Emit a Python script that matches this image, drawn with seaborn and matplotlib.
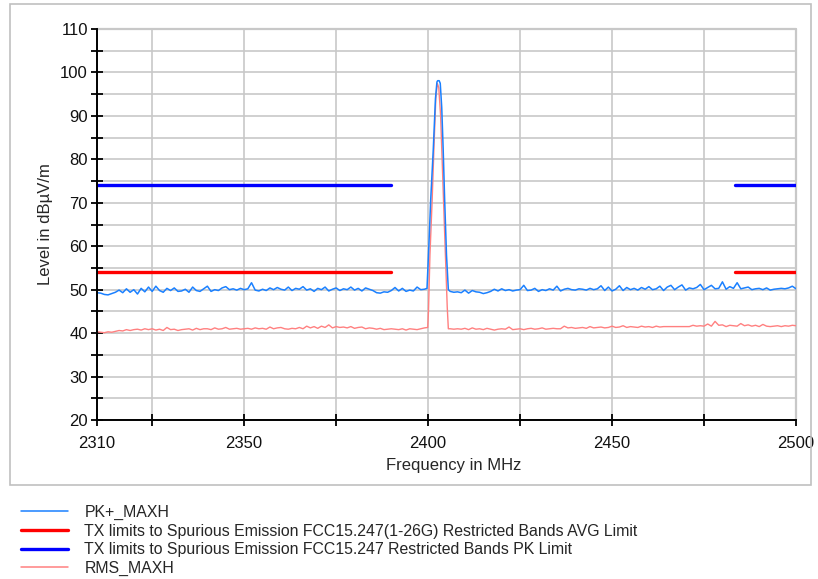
import numpy as np
import pandas as pd
import matplotlib
matplotlib.use("Agg")
import matplotlib.pyplot as plt
from matplotlib.ticker import FixedLocator, NullFormatter
from matplotlib.patches import Rectangle
import seaborn as sns

# ---- sweep data -------------------------------------------------------------
pk_low_freq = np.arange(2310, 2400)
pk_low = [
    49.3, 49.2, 48.9, 48.8, 49.1, 49.4, 49.9, 49.3, 50.2, 49.4,
    50.0, 49.0, 50.3, 49.5, 50.6, 49.6, 50.8, 49.8, 49.4, 50.3,
    49.8, 50.4, 49.6, 49.7, 50.1, 49.4, 50.6, 49.8, 49.6, 50.2,
    50.8, 49.6, 50.0, 49.8, 50.4, 50.7, 50.0, 50.2, 49.9, 50.3,
    50.0, 50.2, 51.6, 49.9, 49.7, 50.1, 49.8, 50.4, 50.0, 50.5,
    50.1, 49.9, 50.6, 49.8, 50.3, 50.1, 50.7, 49.9, 50.2, 49.6,
    50.3, 50.0, 50.6, 49.7, 50.1, 50.4, 49.8, 50.2, 50.0, 50.6,
    49.9, 50.3, 49.7, 50.4, 50.1, 49.8, 49.3, 49.2, 49.5, 49.4,
    49.8, 50.5, 49.7, 50.3, 49.6, 49.9, 49.7, 50.6, 50.0, 50.1,
]
pk_peak_freq = [2399.7, 2400.2, 2400.7, 2401.4, 2402.0, 2402.4, 2402.6,
                2403.0, 2403.3, 2403.7, 2404.1, 2404.5, 2405.0, 2405.5]
pk_peak = [50.3, 60.0, 70.6, 82.2, 94.0, 97.8, 98.1,
           98.1, 97.5, 92.0, 82.2, 70.6, 58.0, 50.0]
pk_high_freq = np.arange(2406, 2501)
pk_high = [
    49.6, 49.4, 49.5, 49.3, 49.9, 49.2, 49.8, 49.5, 49.4, 49.1,
    49.3, 49.6, 50.1, 49.7, 50.2, 49.8, 50.0, 49.7, 49.9, 50.0,
    51.0, 49.8, 49.9, 50.3, 49.6, 50.0, 49.8, 50.2, 49.9, 50.8,
    49.7, 50.1, 50.3, 50.0, 49.9, 50.2, 50.1, 49.9, 50.3, 50.0,
    50.2, 50.9, 49.8, 50.6, 49.7, 50.1, 50.9, 49.8, 50.5, 50.0,
    50.3, 49.9, 50.5, 50.1, 50.7, 50.0, 50.2, 50.8, 49.8, 50.6,
    51.0, 50.0, 50.6, 51.1, 49.9, 50.4, 50.2, 50.5, 51.2, 50.0,
    50.5, 51.0, 50.2, 50.3, 51.8, 50.1, 50.7, 50.3, 51.6, 50.2,
    50.4, 50.6, 50.0, 50.2, 50.3, 50.0, 50.4, 49.9, 50.1, 50.2,
    50.3, 50.2, 50.4, 50.8, 50.2,
]

rms_low_freq = np.arange(2310, 2400)
rms_low = [
    40.3, 40.2, 40.1, 40.3, 40.2, 40.4, 40.6, 40.5, 40.8, 40.6,
    40.8, 40.9, 40.7, 41.0, 40.8, 41.0, 40.7, 40.9, 40.6, 41.3,
    40.8, 40.9, 40.6, 40.8, 40.9, 41.0, 40.7, 41.1, 40.8, 41.0,
    41.0, 40.8, 41.2, 40.9, 41.0, 41.3, 40.9, 41.0, 41.1, 40.9,
    41.0, 41.1, 40.9, 41.2, 41.0, 41.1, 40.9, 41.4, 41.0, 41.2,
    41.3, 41.0, 40.9, 41.1, 41.0, 41.3, 41.0, 41.6, 41.2, 41.5,
    41.1, 41.6, 41.3, 41.9, 41.2, 41.5, 41.3, 41.4, 41.2, 41.5,
    41.1, 41.3, 41.4, 41.0, 41.2, 41.1, 40.9, 41.1, 40.8, 40.9,
    41.0, 40.9, 40.8, 41.0, 40.7, 41.0, 40.9, 40.8, 41.0, 41.2,
]
rms_peak_freq = [2399.9, 2400.1, 2400.5, 2401.1, 2401.6, 2402.1, 2402.5,
                 2402.9, 2403.4, 2403.8, 2404.2, 2404.7, 2405.2, 2405.5]
rms_peak = [41.3, 45.0, 58.0, 70.6, 83.0, 94.0, 97.5,
            96.5, 90.0, 80.0, 70.6, 58.0, 46.0, 41.0]
rms_high_freq = np.arange(2406, 2501)
rms_high = [
    41.0, 40.9, 41.0, 40.9, 41.1, 40.8, 41.2, 40.9, 41.0, 40.8,
    41.1, 40.9, 40.7, 40.9, 41.0, 40.9, 41.4, 40.8, 40.9, 41.0,
    40.8, 41.0, 41.1, 40.9, 41.0, 41.2, 40.9, 41.0, 41.1, 41.0,
    41.0, 41.6, 41.2, 41.3, 41.1, 41.2, 41.3, 41.1, 41.5, 41.2,
    41.3, 41.4, 41.2, 41.3, 41.6, 41.3, 41.4, 41.7, 41.3, 41.5,
    41.4, 41.3, 41.6, 41.4, 41.5, 41.3, 41.6, 41.4, 41.5, 41.5,
    41.5, 41.5, 41.5, 41.5, 41.5, 41.5, 41.8, 41.6, 41.7, 41.6,
    42.1, 41.6, 42.7, 41.8, 41.9, 41.5, 41.8, 41.7, 41.6, 42.2,
    41.7, 41.9, 41.6, 41.8, 41.5, 42.0, 41.6, 41.5, 41.6, 41.7,
    41.5, 41.7, 41.6, 41.8, 41.7,
]

# restricted-band limits (dBuV/m) over the two restricted bands
band_low = [2310, 2390]
band_high = [2483.5, 2500]
avg_limit = 54.0
pk_limit = 74.0

labels = [
    "PK+_MAXH",
    "TX limits to Spurious Emission FCC15.247(1-26G) Restricted Bands AVG Limit",
    "TX limits to Spurious Emission FCC15.247 Restricted Bands PK Limit",
    "RMS_MAXH",
]

pk_df = pd.DataFrame({
    "freq": np.concatenate([pk_low_freq, pk_peak_freq, pk_high_freq]),
    "level": np.concatenate([pk_low, pk_peak, pk_high]),
})
rms_df = pd.DataFrame({
    "freq": np.concatenate([rms_low_freq, rms_peak_freq, rms_high_freq]),
    "level": np.concatenate([rms_low, rms_peak, rms_high]),
})

# ---- styling ----------------------------------------------------------------
sns.set_theme(style="white")
plt.rcParams["font.family"] = ["Liberation Sans", "DejaVu Sans"]
plt.rcParams["font.size"] = 12

C_PK = "#1a80ff"
C_RMS = "#ff8080"
C_AVG = "#ff0000"
C_PKL = "#0000ff"
GRID = "#c8c8c8"

fig = plt.figure(figsize=(8.18, 5.79), dpi=100)
fig.patches.append(Rectangle((10 / 818, 1 - 485 / 579), 801 / 818, 481 / 579,
                             transform=fig.transFigure, fill=False,
                             edgecolor="#c0c0c0", linewidth=1.2))
ax = fig.add_axes([97 / 818, 1 - 420 / 579, 699 / 818, 391 / 579])

sns.lineplot(data=rms_df, x="freq", y="level", ax=ax, color=C_RMS,
             linewidth=1.0, sort=False, estimator=None, zorder=3)
sns.lineplot(data=pk_df, x="freq", y="level", ax=ax, color=C_PK,
             linewidth=1.1, sort=False, estimator=None, zorder=4)
for band in (band_low, band_high):
    sns.lineplot(x=band, y=[avg_limit] * 2, ax=ax, color=C_AVG,
                 linewidth=2.4, zorder=5)
    sns.lineplot(x=band, y=[pk_limit] * 2, ax=ax, color=C_PKL,
                 linewidth=2.4, zorder=5)

ax.set_xlim(2310, 2500)
ax.set_ylim(20, 110)
ax.xaxis.set_major_locator(FixedLocator([2310, 2350, 2400, 2450, 2500]))
ax.xaxis.set_minor_locator(FixedLocator([2325, 2375, 2425, 2475]))
ax.yaxis.set_major_locator(FixedLocator(np.arange(20, 111, 10)))
ax.yaxis.set_minor_locator(FixedLocator(np.arange(25, 110, 10)))
ax.xaxis.set_minor_formatter(NullFormatter())
ax.yaxis.set_minor_formatter(NullFormatter())

ax.grid(True, which="both", color=GRID, linewidth=1.2, zorder=0)
ax.set_axisbelow(True)
for side in ("top", "right"):
    ax.spines[side].set_visible(False)
for side in ("left", "bottom"):
    ax.spines[side].set_color("black")
    ax.spines[side].set_linewidth(1.4)
    ax.spines[side].set_zorder(6)
ax.plot([2500, 2500], [20, 110], color=GRID, linewidth=1.6, zorder=1,
        clip_on=False)
ax.plot([2310, 2500], [110, 110], color=GRID, linewidth=1.6, zorder=1,
        clip_on=False)

ax.tick_params(axis="both", which="both", direction="inout", length=9,
               width=1.3, color="black", labelsize=12, labelcolor="#111111",
               bottom=True, left=True)
ax.tick_params(axis="x", which="both", pad=7)
ax.tick_params(axis="y", which="both", pad=2)

ax.set_xlabel("Frequency in MHz", fontsize=12)
ax.xaxis.set_label_coords(0.51, -0.098)
ax.set_ylabel("Level in dBµV/m", fontsize=12, labelpad=5)

# legend below the chart frame
handles = [
    plt.Line2D([], [], color=C_PK, linewidth=1.1),
    plt.Line2D([], [], color=C_AVG, linewidth=2.4),
    plt.Line2D([], [], color=C_PKL, linewidth=2.4),
    plt.Line2D([], [], color=C_RMS, linewidth=1.1),
]
fig.legend(handles, labels, loc="upper left",
           bbox_to_anchor=(21 / 818, 1 - 505 / 579), frameon=False,
           fontsize=11.4, handlelength=2.95, handletextpad=1.05,
           labelspacing=0.22, borderpad=0, borderaxespad=0)

fig.savefig("out.png", dpi=100)
